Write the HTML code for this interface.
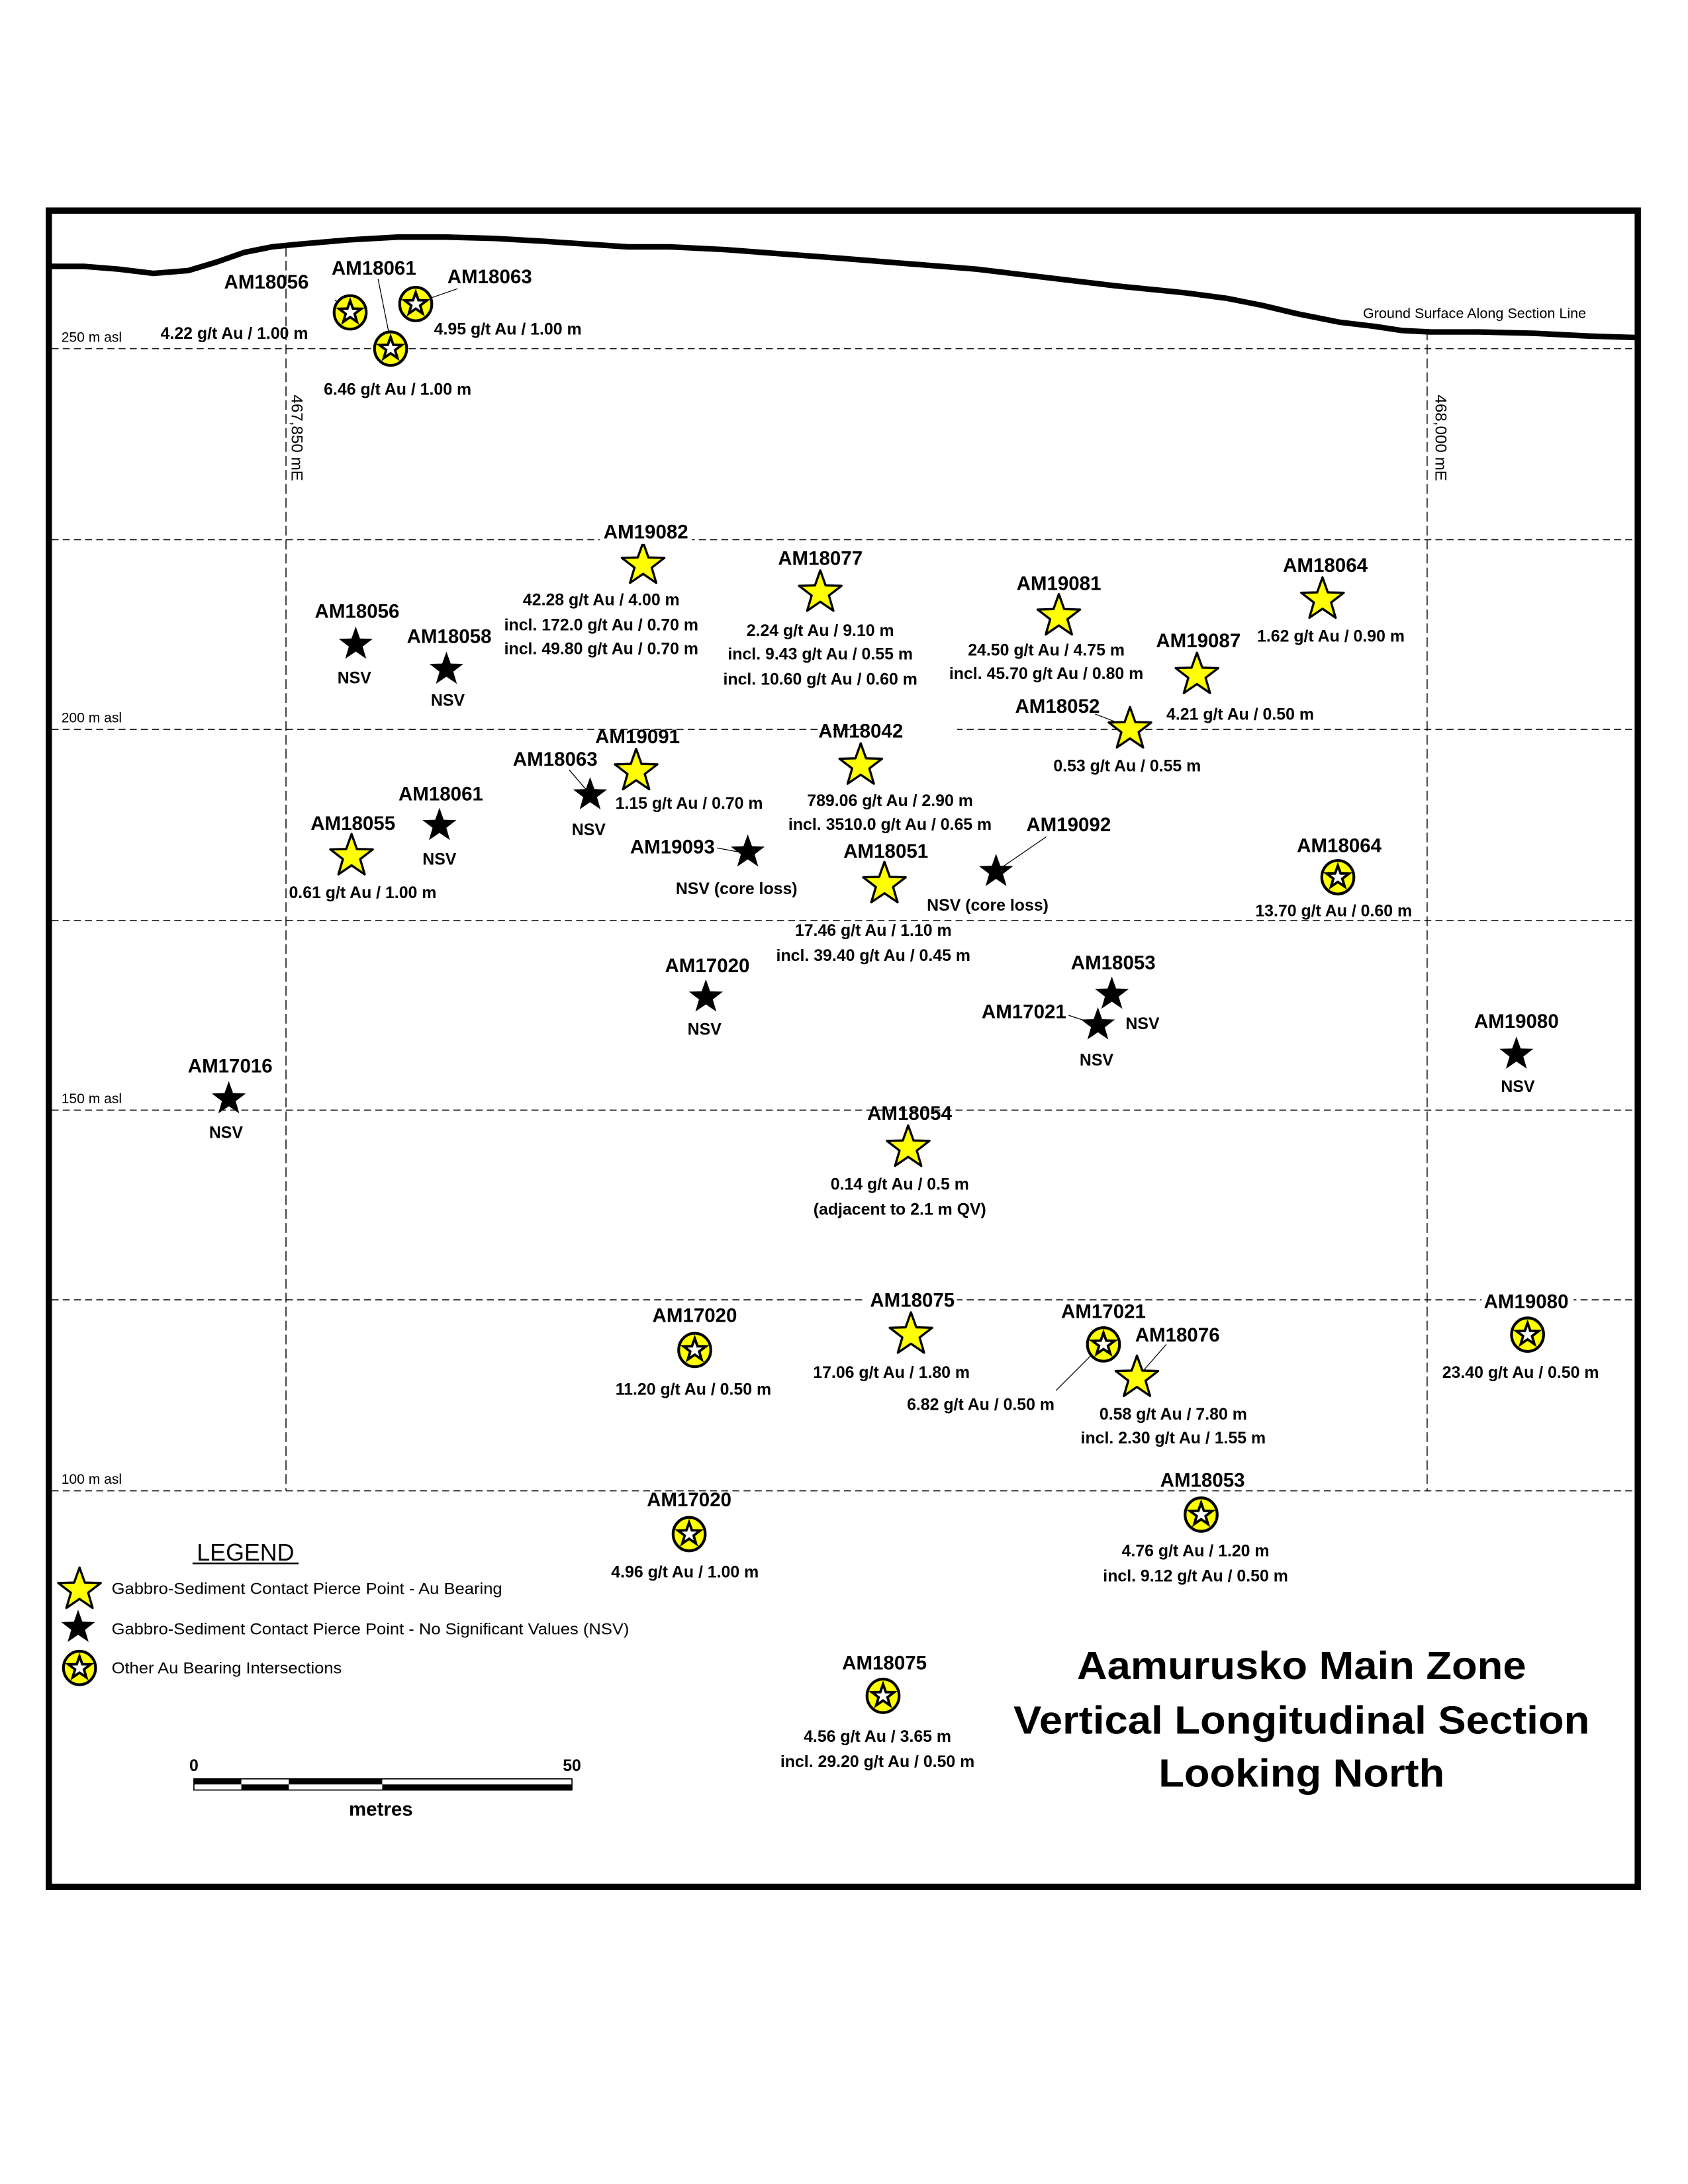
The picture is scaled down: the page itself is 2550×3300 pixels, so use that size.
<!DOCTYPE html>
<html><head><meta charset="utf-8"><style>
html,body{margin:0;padding:0;background:#fff}
svg{display:block}
text{font-family:"Liberation Sans",Arial,sans-serif}
.h{font-weight:bold;font-size:14px;text-anchor:middle}
.d{font-weight:bold;font-size:11.8px;text-anchor:middle}
.g{font-size:10px}
</style></head><body>
<svg width="2550" height="3300" viewBox="0 0 1210 1566" preserveAspectRatio="none" xmlns="http://www.w3.org/2000/svg">
<defs>
<path id="st" d="M0,-16 L3.82,-5.26 L15.22,-4.94 L6.18,2.01 L9.4,12.94 L0,6.5 L-9.4,12.94 L-6.18,2.01 L-15.22,-4.94 L-3.82,-5.26 Z"/>
<g id="ys"><use href="#st" fill="#ffff00" stroke="#000" stroke-width="1.6" stroke-linejoin="round"/></g>
<g id="bs"><use href="#st" transform="scale(0.8)" fill="#000"/></g>
<g id="cs"><ellipse cx="0" cy="0" rx="11.5" ry="12" fill="#ffff00" stroke="#000" stroke-width="2"/><use href="#st" transform="scale(0.52)" fill="#fff" stroke="#000" stroke-width="3.5" stroke-linejoin="miter"/></g>
</defs>
<rect width="1210" height="1566" fill="#fff"/>
<g stroke="#000" stroke-width="0.7" stroke-dasharray="5,3" fill="none">
<line x1="37" y1="250" x2="1172" y2="250"/>
<line x1="37" y1="387" x2="1172" y2="387"/>
<line x1="37" y1="523" x2="1172" y2="523"/>
<line x1="37" y1="660" x2="1172" y2="660"/>
<line x1="37" y1="796" x2="1172" y2="796"/>
<line x1="37" y1="932" x2="1172" y2="932"/>
<line x1="37" y1="1069" x2="1172" y2="1069"/>
<line x1="205" y1="177" x2="205" y2="1069" stroke-dasharray="7,3"/>
<line x1="1023" y1="237" x2="1023" y2="1069" stroke-dasharray="7,3"/>
</g>
<g class="g">
<text x="44" y="245">250 m asl</text>
<text x="44" y="518">200 m asl</text>
<text x="44" y="791">150 m asl</text>
<text x="44" y="1064">100 m asl</text>
<text transform="translate(209,283) rotate(90)" font-size="11.5">467,850 mE</text>
<text transform="translate(1029,283) rotate(90)" font-size="11.5">468,000 mE</text>
<text x="977" y="228" font-size="10" textLength="160" lengthAdjust="spacingAndGlyphs">Ground Surface Along Section Line</text>
</g>
<polyline fill="none" stroke="#000" stroke-width="4" stroke-linejoin="round" points="37,191 60,191 85,193 110,196 135,194 155,188 175,181 195,177 215,175 250,172 285,170 320,170 355,171 390,173 420,175 450,177 480,177 520,179 560,182 600,185 650,189 700,193 750,199 800,205 850,210 880,214 905,219 930,225 960,231 985,234 1005,237 1025,238 1060,238 1100,239 1140,241 1172,242"/>
<rect x="35" y="151" width="1139" height="1202" fill="none" stroke="#000" stroke-width="4.5"/>
<g stroke="#000" stroke-width="0.6" fill="none">
<line x1="240" y1="215" x2="251" y2="224"/>
<line x1="271" y1="200" x2="279" y2="240"/>
<line x1="328" y1="207" x2="305" y2="215"/>
<line x1="785" y1="512" x2="806" y2="520"/>
<line x1="408" y1="552" x2="420" y2="566"/>
<line x1="514" y1="608" x2="530" y2="611"/>
<line x1="750" y1="600" x2="718" y2="622"/>
<line x1="766" y1="728" x2="781" y2="733"/>
<line x1="757" y1="997" x2="788" y2="966"/>
<line x1="836" y1="964" x2="815" y2="988"/>
</g>
<use href="#cs" x="251" y="224"/><use href="#cs" x="280" y="250"/><use href="#cs" x="298" y="218"/>
<use href="#ys" x="461" y="405"/><use href="#ys" x="588" y="425"/><use href="#ys" x="759" y="442"/>
<use href="#ys" x="948" y="430"/><use href="#ys" x="858" y="484"/><use href="#ys" x="810" y="523"/>
<use href="#bs" x="255" y="462"/><use href="#bs" x="320" y="480"/>
<use href="#ys" x="456" y="553"/><use href="#bs" x="423" y="570"/><use href="#ys" x="617" y="549"/>
<use href="#bs" x="315" y="592"/><use href="#ys" x="252" y="614"/><use href="#bs" x="536" y="611"/>
<use href="#ys" x="634" y="634"/><use href="#bs" x="714" y="625"/><use href="#cs" x="959" y="629"/>
<use href="#bs" x="506" y="715"/><use href="#bs" x="797" y="713"/><use href="#bs" x="787" y="735"/>
<use href="#bs" x="1087" y="756"/><use href="#bs" x="164" y="788"/><use href="#ys" x="651" y="823"/>
<use href="#cs" x="498" y="968"/><use href="#ys" x="653" y="957"/><use href="#cs" x="791" y="964"/>
<use href="#ys" x="815" y="988"/><use href="#cs" x="1095" y="957"/><use href="#cs" x="494" y="1100"/>
<use href="#cs" x="861" y="1086"/><use href="#cs" x="633" y="1216"/>
<rect x="430" y="376" width="66" height="14" fill="#fff"/>
<rect x="620" y="516" width="66" height="14" fill="#fff"/>
<rect x="620" y="926" width="66" height="14" fill="#fff"/>
<rect x="1062" y="926" width="66" height="14" fill="#fff"/>
<g class="h">
<text x="191" y="207">AM18056</text><text x="268" y="197">AM18061</text><text x="351" y="203">AM18063</text>
<text x="463" y="386">AM19082</text><text x="588" y="405">AM18077</text><text x="759" y="423">AM19081</text>
<text x="950" y="410">AM18064</text><text x="859" y="464">AM19087</text><text x="758" y="511">AM18052</text>
<text x="256" y="443">AM18056</text><text x="322" y="461">AM18058</text><text x="457" y="533">AM19091</text>
<text x="398" y="549">AM18063</text><text x="617" y="529">AM18042</text><text x="316" y="574">AM18061</text>
<text x="253" y="595">AM18055</text><text x="482" y="612">AM19093</text><text x="635" y="615">AM18051</text>
<text x="766" y="596">AM19092</text><text x="960" y="611">AM18064</text><text x="507" y="697">AM17020</text>
<text x="798" y="695">AM18053</text><text x="734" y="730">AM17021</text><text x="1087" y="737">AM19080</text>
<text x="165" y="769">AM17016</text><text x="652" y="803">AM18054</text><text x="498" y="948">AM17020</text>
<text x="654" y="937">AM18075</text><text x="791" y="945">AM17021</text><text x="844" y="962">AM18076</text>
<text x="1094" y="938">AM19080</text><text x="494" y="1080">AM17020</text><text x="862" y="1066">AM18053</text>
<text x="634" y="1197">AM18075</text>
</g>
<g class="d">
<text x="168" y="243">4.22 g/t Au / 1.00 m</text><text x="285" y="283">6.46 g/t Au / 1.00 m</text><text x="364" y="240">4.95 g/t Au / 1.00 m</text>
<text x="431" y="434">42.28 g/t Au / 4.00 m</text><text x="431" y="452">incl. 172.0 g/t Au / 0.70 m</text><text x="431" y="469">incl. 49.80 g/t Au / 0.70 m</text>
<text x="588" y="456">2.24 g/t Au / 9.10 m</text><text x="588" y="473">incl. 9.43 g/t Au / 0.55 m</text><text x="588" y="491">incl. 10.60 g/t Au / 0.60 m</text>
<text x="750" y="470">24.50 g/t Au / 4.75 m</text><text x="750" y="487">incl. 45.70 g/t Au / 0.80 m</text>
<text x="954" y="460">1.62 g/t Au / 0.90 m</text><text x="889" y="516">4.21 g/t Au / 0.50 m</text><text x="808" y="553">0.53 g/t Au / 0.55 m</text>
<text x="254" y="490">NSV</text><text x="321" y="506">NSV</text><text x="494" y="580">1.15 g/t Au / 0.70 m</text>
<text x="422" y="599">NSV</text><text x="638" y="578">789.06 g/t Au / 2.90 m</text><text x="638" y="595">incl. 3510.0 g/t Au / 0.65 m</text>
<text x="315" y="620">NSV</text><text x="260" y="644">0.61 g/t Au / 1.00 m</text><text x="528" y="641">NSV (core loss)</text>
<text x="626" y="671">17.46 g/t Au / 1.10 m</text><text x="626" y="689">incl. 39.40 g/t Au / 0.45 m</text>
<text x="708" y="653">NSV (core loss)</text><text x="956" y="657">13.70 g/t Au / 0.60 m</text>
<text x="505" y="742">NSV</text><text x="819" y="738">NSV</text><text x="786" y="764">NSV</text><text x="1088" y="783">NSV</text><text x="162" y="816">NSV</text>
<text x="645" y="853">0.14 g/t Au / 0.5 m</text><text x="645" y="871">(adjacent to 2.1 m QV)</text>
<text x="497" y="1000">11.20 g/t Au / 0.50 m</text><text x="639" y="988">17.06 g/t Au / 1.80 m</text><text x="703" y="1011">6.82 g/t Au / 0.50 m</text>
<text x="841" y="1018">0.58 g/t Au / 7.80 m</text><text x="841" y="1035">incl. 2.30 g/t Au / 1.55 m</text>
<text x="1090" y="988">23.40 g/t Au / 0.50 m</text><text x="491" y="1131">4.96 g/t Au / 1.00 m</text>
<text x="857" y="1116">4.76 g/t Au / 1.20 m</text><text x="857" y="1134">incl. 9.12 g/t Au / 0.50 m</text>
<text x="629" y="1249">4.56 g/t Au / 3.65 m</text><text x="629" y="1267">incl. 29.20 g/t Au / 0.50 m</text>
</g>
<text x="176" y="1119" font-size="17" text-anchor="middle">LEGEND</text>
<line x1="138" y1="1121" x2="214" y2="1121" stroke="#000" stroke-width="1.2"/>
<use href="#ys" x="57" y="1140"/>
<use href="#bs" x="56" y="1167"/>
<use href="#cs" x="57" y="1196"/>
<g font-size="11.5"><text x="80" y="1143" textLength="280" lengthAdjust="spacingAndGlyphs">Gabbro-Sediment Contact Pierce Point - Au Bearing</text>
<text x="80" y="1172" textLength="371" lengthAdjust="spacingAndGlyphs">Gabbro-Sediment Contact Pierce Point - No Significant Values (NSV)</text>
<text x="80" y="1200" textLength="165" lengthAdjust="spacingAndGlyphs">Other Au Bearing Intersections</text></g>
<text x="139" y="1270" class="d" font-size="12">0</text><text x="410" y="1270" class="d" font-size="12">50</text>
<rect x="139" y="1275.5" width="271" height="8" fill="#fff" stroke="#000" stroke-width="0.8"/>
<rect x="139" y="1275.5" width="34" height="4" fill="#000"/><rect x="207" y="1275.5" width="67" height="4" fill="#000"/>
<rect x="173" y="1279.5" width="34" height="4" fill="#000"/><rect x="274" y="1279.5" width="136" height="4" fill="#000"/>
<text x="273" y="1302" class="h" font-size="13">metres</text>
<g font-weight="bold" font-size="28" text-anchor="middle">
<text x="933" y="1204" textLength="322" lengthAdjust="spacingAndGlyphs">Aamurusko Main Zone</text>
<text x="933" y="1243" textLength="413" lengthAdjust="spacingAndGlyphs">Vertical Longitudinal Section</text>
<text x="933" y="1281" textLength="205" lengthAdjust="spacingAndGlyphs">Looking North</text>
</g>
</svg>
</body></html>
